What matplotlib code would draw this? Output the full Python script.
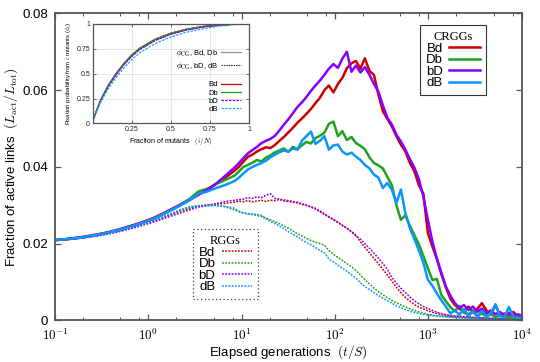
import numpy as np
import matplotlib
matplotlib.use("Agg")
import matplotlib.pyplot as plt
from matplotlib.lines import Line2D
from matplotlib.ticker import FixedLocator, NullFormatter

plt.rcParams['font.family'] = ['Liberation Sans', 'DejaVu Sans']
plt.rcParams['mathtext.fontset'] = 'cm'

# ---------------- data: main panel ----------------
# log10 of elapsed generations (t/S) at which values were read
log_t = [-1.0, -0.911, -0.815, -0.718, -0.622, -0.525, -0.429, -0.332, -0.236, -0.139,
         -0.043, 0.054, 0.150, 0.247, 0.343, 0.439, 0.536, 0.632, 0.729, 0.825,
         0.922, 0.970, 1.018, 1.066, 1.115, 1.163, 1.211, 1.259, 1.308, 1.356,
         1.404, 1.452, 1.500, 1.549, 1.597, 1.645, 1.693, 1.742, 1.790, 1.838,
         1.886, 1.934, 1.983, 2.031, 2.079, 2.127, 2.176, 2.224, 2.272, 2.320,
         2.369, 2.417, 2.465, 2.513, 2.561, 2.610, 2.658, 2.706, 2.754, 2.803,
         2.851, 2.899, 2.947, 2.995, 3.044, 3.092, 3.140, 3.188, 3.237, 3.285,
         3.333, 3.381, 3.430, 3.478, 3.526, 3.574, 3.622, 3.671, 3.719, 3.767,
         3.815, 3.863, 3.911, 3.959, 4.0]

crgg_Bd = [0.0209, 0.0211, 0.0214, 0.0217, 0.0221, 0.0225, 0.0230, 0.0236, 0.0243, 0.0250,
           0.0258, 0.0267, 0.0278, 0.0290, 0.0302, 0.0315, 0.0327, 0.0340, 0.0356, 0.0372,
           0.0390, 0.0400, 0.0414, 0.0426, 0.0432, 0.0440, 0.0446, 0.0451, 0.0449, 0.0457,
           0.0468, 0.0478, 0.0490, 0.0502, 0.0515, 0.0526, 0.0538, 0.0551, 0.0566, 0.0580,
           0.0600, 0.0612, 0.0594, 0.0616, 0.0632, 0.0657, 0.0670, 0.0676, 0.0656, 0.0683,
           0.0650, 0.0640, 0.0588, 0.0545, 0.0525, 0.0505, 0.0480, 0.0458, 0.0440, 0.0410,
           0.0388, 0.0352, 0.0330, 0.0228, 0.0192, 0.0160, 0.0120, 0.0086, 0.0056, 0.0040,
           0.0030, 0.0024, 0.0036, 0.0022, 0.0030, 0.0045, 0.0026, 0.0016, 0.0040, 0.0014,
           0.0018, 0.0012, 0.0022, 0.0010, 0.0012]
crgg_Db = [0.0209, 0.0211, 0.0213, 0.0216, 0.0220, 0.0224, 0.0229, 0.0235, 0.0241, 0.0248,
           0.0256, 0.0265, 0.0276, 0.0288, 0.0301, 0.0316, 0.0336, 0.0343, 0.0356, 0.0366,
           0.0377, 0.0388, 0.0400, 0.0405, 0.0411, 0.0418, 0.0414, 0.0424, 0.0430, 0.0438,
           0.0443, 0.0448, 0.0439, 0.0452, 0.0446, 0.0456, 0.0465, 0.0461, 0.0475, 0.0481,
           0.0489, 0.0512, 0.0518, 0.0480, 0.0493, 0.0470, 0.0478, 0.0462, 0.0455, 0.0446,
           0.0425, 0.0410, 0.0404, 0.0396, 0.0374, 0.0352, 0.0300, 0.0262, 0.0274, 0.0246,
           0.0222, 0.0198, 0.0168, 0.0136, 0.0105, 0.0108, 0.0066, 0.0050, 0.0034, 0.0024,
           0.0038, 0.0020, 0.0015, 0.0026, 0.0012, 0.0018, 0.0010, 0.0016, 0.0009, 0.0012,
           0.0007, 0.0010, 0.0006, 0.0008, 0.0005]
crgg_bD = [0.0209, 0.0211, 0.0213, 0.0216, 0.0220, 0.0224, 0.0229, 0.0235, 0.0241, 0.0248,
           0.0256, 0.0265, 0.0276, 0.0288, 0.0300, 0.0313, 0.0328, 0.0341, 0.0357, 0.0377,
           0.0398, 0.0410, 0.0423, 0.0435, 0.0444, 0.0452, 0.0462, 0.0468, 0.0473, 0.0481,
           0.0495, 0.0510, 0.0524, 0.0540, 0.0556, 0.0568, 0.0582, 0.0598, 0.0612, 0.0625,
           0.0640, 0.0656, 0.0668, 0.0658, 0.0682, 0.0700, 0.0648, 0.0664, 0.0646, 0.0660,
           0.0640, 0.0616, 0.0596, 0.0560, 0.0528, 0.0510, 0.0484, 0.0466, 0.0445, 0.0420,
           0.0398, 0.0368, 0.0322, 0.0262, 0.0205, 0.0160, 0.0124, 0.0088, 0.0064, 0.0045,
           0.0032, 0.0040, 0.0027, 0.0036, 0.0022, 0.0031, 0.0018, 0.0026, 0.0016, 0.0022,
           0.0013, 0.0020, 0.0011, 0.0016, 0.0012]
crgg_dB = [0.0209, 0.0211, 0.0213, 0.0216, 0.0220, 0.0224, 0.0229, 0.0235, 0.0241, 0.0248,
           0.0256, 0.0265, 0.0276, 0.0288, 0.0300, 0.0313, 0.0330, 0.0336, 0.0345, 0.0353,
           0.0363, 0.0372, 0.0383, 0.0393, 0.0400, 0.0405, 0.0410, 0.0416, 0.0425, 0.0432,
           0.0438, 0.0443, 0.0440, 0.0448, 0.0445, 0.0468, 0.0480, 0.0492, 0.0460, 0.0468,
           0.0480, 0.0445, 0.0456, 0.0458, 0.0440, 0.0432, 0.0437, 0.0427, 0.0418, 0.0405,
           0.0396, 0.0380, 0.0372, 0.0345, 0.0358, 0.0340, 0.0306, 0.0341, 0.0280, 0.0240,
           0.0212, 0.0182, 0.0150, 0.0106, 0.0090, 0.0070, 0.0052, 0.0036, 0.0018, 0.0026,
           0.0015, 0.0030, 0.0012, 0.0022, 0.0010, 0.0025, 0.0012, 0.0018, 0.0042, 0.0012,
           0.0008, 0.0035, 0.0010, 0.0008, 0.0006]

rgg_Bd = [0.0209, 0.0210, 0.0212, 0.0215, 0.0218, 0.0222, 0.0227, 0.0232, 0.0238, 0.0245,
          0.0252, 0.0259, 0.0267, 0.0276, 0.0285, 0.0292, 0.0298, 0.0301, 0.0303, 0.0305,
          0.0308, 0.0311, 0.0309, 0.0312, 0.0309, 0.0311, 0.0313, 0.0310, 0.0313, 0.0312,
          0.0315, 0.0311, 0.0310, 0.0308, 0.0306, 0.0302, 0.0300, 0.0296, 0.0292, 0.0285,
          0.0278, 0.0270, 0.0263, 0.0256, 0.0248, 0.0240, 0.0232, 0.0222, 0.0205, 0.0190,
          0.0176, 0.0162, 0.0148, 0.0133, 0.0118, 0.0102, 0.0086, 0.0072, 0.0060, 0.0050,
          0.0041, 0.0034, 0.0030, 0.0025, 0.0021, 0.0018, 0.0015, 0.0013, 0.0011, 0.0010,
          0.0009, 0.0008, 0.0008, 0.0007, 0.0006, 0.0006, 0.0005, 0.0005, 0.0004, 0.0004,
          0.0004, 0.0003, 0.0003, 0.0003, 0.0003]
rgg_Db = [0.0209, 0.0210, 0.0212, 0.0215, 0.0218, 0.0222, 0.0227, 0.0232, 0.0238, 0.0245,
          0.0252, 0.0260, 0.0268, 0.0277, 0.0286, 0.0293, 0.0298, 0.0299, 0.0300, 0.0296,
          0.0288, 0.0283, 0.0280, 0.0278, 0.0276, 0.0273, 0.0271, 0.0266, 0.0262, 0.0257,
          0.0252, 0.0246, 0.0240, 0.0233, 0.0226, 0.0220, 0.0214, 0.0208, 0.0204, 0.0200,
          0.0196, 0.0182, 0.0172, 0.0164, 0.0156, 0.0148, 0.0140, 0.0130, 0.0118, 0.0106,
          0.0095, 0.0084, 0.0075, 0.0067, 0.0059, 0.0052, 0.0046, 0.0040, 0.0035, 0.0030,
          0.0026, 0.0022, 0.0019, 0.0016, 0.0014, 0.0012, 0.0011, 0.0010, 0.0009, 0.0008,
          0.0007, 0.0007, 0.0006, 0.0006, 0.0005, 0.0005, 0.0005, 0.0004, 0.0004, 0.0004,
          0.0003, 0.0003, 0.0003, 0.0003, 0.0003]
rgg_bD = [0.0209, 0.0210, 0.0212, 0.0214, 0.0217, 0.0221, 0.0225, 0.0230, 0.0236, 0.0242,
          0.0249, 0.0256, 0.0264, 0.0272, 0.0280, 0.0288, 0.0295, 0.0299, 0.0304, 0.0310,
          0.0313, 0.0315, 0.0316, 0.0320, 0.0318, 0.0322, 0.0320, 0.0326, 0.0330, 0.0318,
          0.0316, 0.0314, 0.0312, 0.0310, 0.0308, 0.0304, 0.0300, 0.0295, 0.0290, 0.0283,
          0.0276, 0.0269, 0.0262, 0.0255, 0.0247, 0.0240, 0.0230, 0.0220, 0.0212, 0.0200,
          0.0188, 0.0175, 0.0162, 0.0148, 0.0133, 0.0112, 0.0097, 0.0084, 0.0072, 0.0061,
          0.0051, 0.0043, 0.0036, 0.0031, 0.0026, 0.0021, 0.0018, 0.0015, 0.0013, 0.0012,
          0.0011, 0.0010, 0.0009, 0.0008, 0.0008, 0.0007, 0.0006, 0.0006, 0.0005, 0.0005,
          0.0004, 0.0004, 0.0003, 0.0003, 0.0003]
rgg_dB = [0.0209, 0.0210, 0.0212, 0.0215, 0.0218, 0.0222, 0.0227, 0.0232, 0.0238, 0.0245,
          0.0252, 0.0260, 0.0269, 0.0279, 0.0289, 0.0296, 0.0299, 0.0300, 0.0299, 0.0297,
          0.0292, 0.0285, 0.0280, 0.0277, 0.0277, 0.0276, 0.0274, 0.0265, 0.0258, 0.0252,
          0.0246, 0.0239, 0.0231, 0.0224, 0.0218, 0.0210, 0.0203, 0.0197, 0.0190, 0.0182,
          0.0176, 0.0160, 0.0152, 0.0144, 0.0136, 0.0128, 0.0119, 0.0110, 0.0098, 0.0088,
          0.0080, 0.0072, 0.0065, 0.0058, 0.0051, 0.0045, 0.0038, 0.0033, 0.0028, 0.0024,
          0.0021, 0.0018, 0.0016, 0.0014, 0.0012, 0.0011, 0.0010, 0.0009, 0.0008, 0.0007,
          0.0007, 0.0006, 0.0006, 0.0005, 0.0005, 0.0005, 0.0004, 0.0004, 0.0004, 0.0003,
          0.0003, 0.0003, 0.0003, 0.0003, 0.0003]

series_names = ['Bd', 'Db', 'bD', 'dB']
series_colors = ['#cc0000', '#1fa31f', '#8800ff', '#0a96ff']

x_ticks_exp = [-1, 0, 1, 2, 3, 4]
y_ticks = [0, 0.02, 0.04, 0.06, 0.08]
y_tick_labels = ['0', '0.02', '0.04', '0.06', '0.08']

# ---------------- data: inset ----------------
frac_mutants = [0.0, 0.02, 0.05, 0.1, 0.15, 0.2, 0.25, 0.3, 0.4, 0.5, 0.6, 0.7, 0.8, 0.9, 1.0]
fix_high = [0.03, 0.115, 0.235, 0.386, 0.503, 0.604, 0.688, 0.755, 0.846, 0.906, 0.946, 0.973, 0.987, 0.997, 1.0]
fix_mid = [0.03, 0.112, 0.228, 0.376, 0.492, 0.592, 0.675, 0.742, 0.834, 0.896, 0.938, 0.967, 0.984, 0.996, 1.0]
fix_low = [0.03, 0.105, 0.212, 0.352, 0.462, 0.560, 0.642, 0.710, 0.803, 0.870, 0.916, 0.950, 0.975, 0.992, 1.0]
inset_x_ticks = [0.25, 0.5, 0.75, 1.0]
inset_x_labels = ['0.25', '0.5', '0.75', '1']
inset_y_ticks = [0, 0.25, 0.5, 0.75, 1.0]
inset_y_labels = ['0', '0.25', '0.5', '0.75', '1']

# ---------------- figure ----------------
fig = plt.figure(figsize=(5.4, 3.62), dpi=100)
ax = fig.add_axes([0.102, 0.115, 0.864, 0.848])

t = 10.0 ** np.array(log_t)
spine_col = '#555555'

crgg = [crgg_Bd, crgg_Db, crgg_bD, crgg_dB]
rgg = [rgg_Bd, rgg_Db, rgg_bD, rgg_dB]
dot_style = (0, (1.2, 0.9))

rgg_lines = []
for vals, c, n in zip(rgg, series_colors, series_names):
    ln, = ax.plot(t, vals, color=c, lw=1.1, ls=dot_style, label=n)
    rgg_lines.append(ln)
crgg_lines = []
for vals, c, n in zip(crgg, series_colors, series_names):
    ln, = ax.plot(t, vals, color=c, lw=1.8, label=n)
    crgg_lines.append(ln)

ax.set_xscale('log')
ax.set_xlim(0.1, 1e4)
ax.set_ylim(0, 0.08)
ax.xaxis.set_major_locator(FixedLocator([10.0 ** e for e in x_ticks_exp]))
ax.set_xticklabels([r'$\mathsf{10^{%d}}$' % e for e in x_ticks_exp])
minors = [m * 10.0 ** e for e in x_ticks_exp[:-1] for m in (2, 5, 8)]
ax.xaxis.set_minor_locator(FixedLocator(minors))
ax.xaxis.set_minor_formatter(NullFormatter())
ax.set_yticks(y_ticks)
ax.set_yticklabels(y_tick_labels)
ax.tick_params(which='both', direction='in', top=True, right=True, colors=spine_col,
               labelcolor='black', labelsize=9.5)
ax.tick_params(axis='x', which='major', pad=5)
ax.tick_params(axis='y', which='major', pad=5)
ax.tick_params(which='major', length=4, width=0.9)
ax.tick_params(which='minor', length=2.5, width=0.7)
for s in ax.spines.values():
    s.set_color(spine_col)
    s.set_linewidth(1.3)

ax.set_xlabel(r'Elapsed generations  $(t/S)$', fontsize=9.5, labelpad=0)
ax.set_ylabel(r'Fraction of active links  $(L_{\rm act}/L_{\rm tot})$', fontsize=9.5, labelpad=2)

leg_kw = dict(loc='upper left', markerfirst=False, fontsize=9.5, handlelength=2.3,
              handletextpad=0.5, labelspacing=-0.05, borderpad=0.45, fancybox=False,
              framealpha=1, borderaxespad=0)
leg1 = ax.legend(handles=crgg_lines, bbox_to_anchor=(0.782, 0.962), title='CRGGs',
                 edgecolor='#333333', **leg_kw)
leg1.get_title().set_family('Liberation Serif')
leg1.get_title().set_fontsize(9)
leg1.get_frame().set_linewidth(0.8)
ax.add_artist(leg1)

leg2 = ax.legend(handles=rgg_lines, bbox_to_anchor=(0.295, 0.297), title='RGGs',
                 edgecolor='#444444', **leg_kw)
leg2.get_title().set_family('Liberation Serif')
leg2.get_title().set_fontsize(9)
leg2.get_frame().set_linewidth(0.9)
leg2.get_frame().set_linestyle((0, (1, 2)))

# ---------------- inset ----------------
ai = fig.add_axes([0.172, 0.659, 0.289, 0.275])
ai.set_xlim(0, 1)
ai.set_ylim(0, 1)
ai.grid(True, color='#dddddd', lw=0.5)
ai.set_axisbelow(True)
h_cg1, = ai.plot(frac_mutants, fix_high, color='#999999', lw=1.0, label=r'$\phi_{\rm CG}$, Bd, Db')
h_cg2, = ai.plot(frac_mutants, fix_mid, color='#222222', lw=0.7, ls=(0, (1.5, 1)),
                 label=r'$\phi_{\rm CG}$, bD, dB')
h_bd, = ai.plot(frac_mutants, fix_high, color=series_colors[0], lw=0.9, label='Bd')
h_db, = ai.plot(frac_mutants, fix_high, color=series_colors[1], lw=0.9, label='Db')
h_bD, = ai.plot(frac_mutants, fix_mid, color=series_colors[2], lw=0.9, ls=(0, (2, 1)), label='bD')
h_dB, = ai.plot(frac_mutants, fix_low, color='#1aa8f0', lw=0.9, ls=(0, (2, 1)), label='dB')
ai.set_xticks(inset_x_ticks)
ai.set_xticklabels(inset_x_labels)
ai.set_yticks(inset_y_ticks)
ai.set_yticklabels(inset_y_labels)
ai.tick_params(direction='in', length=2, width=0.6, labelsize=5, pad=2, colors=spine_col,
               labelcolor='#222222', top=True, right=True)
for s in ai.spines.values():
    s.set_color(spine_col)
    s.set_linewidth(0.9)
ai.set_xlabel(r'Fraction of mutants   $(i/N)$', fontsize=5, labelpad=2)
ai.set_ylabel(r'Fixation probability from $i$ mutants ($\phi_i$)', fontsize=4.3, labelpad=2)
blank = Line2D([], [], color='none', label=' ')
li = ai.legend(handles=[h_cg1, h_cg2, blank, h_bd, h_db, h_bD, h_dB], loc='upper right',
               bbox_to_anchor=(0.97, 0.80), markerfirst=False, frameon=False, fontsize=5.5,
               handlelength=2.6, handletextpad=0.4, labelspacing=0.12, borderaxespad=0)

fig.savefig('out.png', dpi=100)
